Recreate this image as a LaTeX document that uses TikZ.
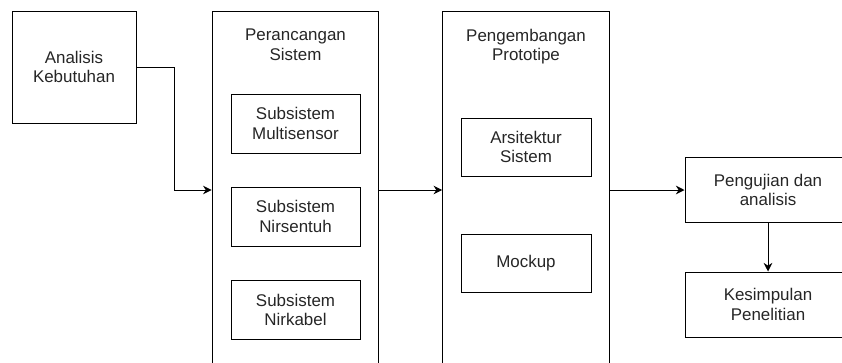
\documentclass[tikz,border=0pt]{standalone}
\usepackage{fontspec}
\setmainfont{Liberation Sans}
\usetikzlibrary{arrows.meta}

\tikzset{
  box/.style={draw, line width=0.75pt, inner sep=2pt, align=center,
              text=black!85},
  stage/.style={draw, line width=0.75pt, minimum width=125pt, minimum height=268.5pt},
  title/.style={anchor=north, inner sep=0pt, align=center, text=black!85},
  link/.style={->, line width=0.75pt, >={Stealth[length=6.5pt,width=6.5pt]}}
}

\begin{document}
\begin{tikzpicture}[x=0.75pt, y=-0.75pt, font=\fontsize{12.7}{14.4}\selectfont]
  \clip (0,0) rectangle (842,362);
  \fill[white] (0,0) rectangle (842,362);

  % Requirements
  \node[box, minimum width=93pt, minimum height=84pt] (ana) at (74,67) {Analisis\\Kebutuhan};

  % System design
  \node[stage] (per) at (295.5,190) {};
  \node[title] (pertitle) at (295.5,29) {Perancangan\\Sistem};
  \node[box, minimum width=96.75pt, minimum height=44.25pt] (multi) at (295.5,123.5) {Subsistem\\Multisensor};
  \node[box, minimum width=96.75pt, minimum height=44.25pt] (touch) at (295.5,216.5) {Subsistem\\Nirsentuh};
  \node[box, minimum width=96.75pt, minimum height=44.25pt] (wire) at (295.5,310) {Subsistem\\Nirkabel};

  % Prototype development
  \node[stage] (dev) at (526,190) {};
  \node[title] (devtitle) at (526,29) {Pengembangan\\Prototipe};
  \node[box, minimum width=97.5pt, minimum height=43.5pt] (arch) at (526,147) {Arsitektur\\Sistem};
  \node[box, minimum width=97.5pt, minimum height=43.5pt] (mock) at (526,263) {Mockup};

  % Testing and conclusion
  \node[box, minimum width=124.5pt, minimum height=48.75pt] (uji) at (768,190) {Pengujian dan\\analisis};
  \node[box, minimum width=124.5pt, minimum height=48.75pt] (kes) at (768,304.5) {Kesimpulan\\Penelitian};

  % Flow
  \draw[link] (ana.east) -- ++(38,0) |- (per.west);
  \draw[link] (per.east) -- (dev.west);
  \draw[link] (dev.east) -- (uji.west);
  \draw[link] (uji.south) -- (kes.north);
\end{tikzpicture}
\end{document}
